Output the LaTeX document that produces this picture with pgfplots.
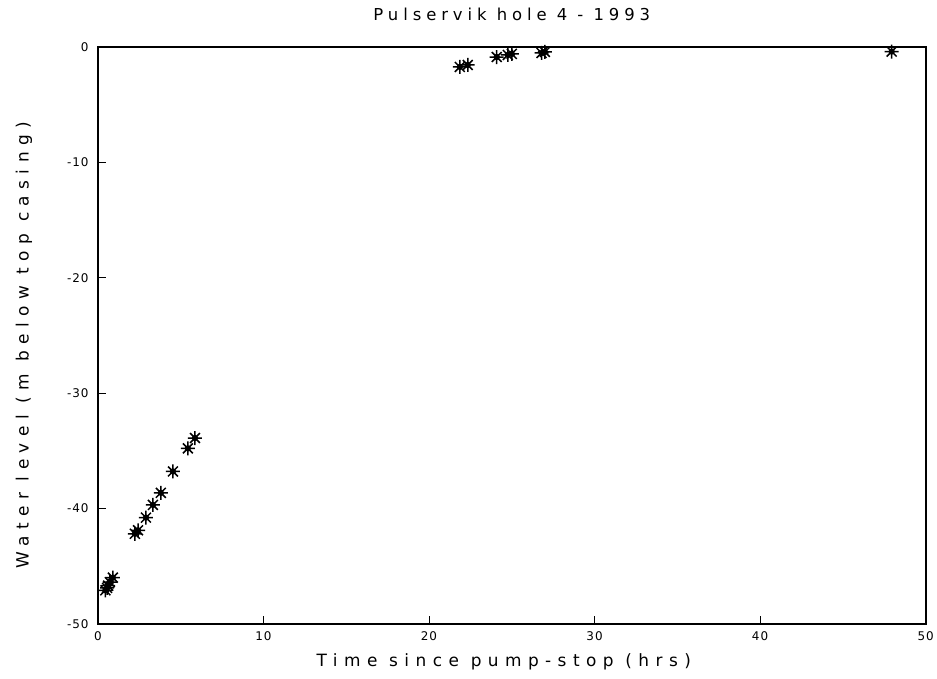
\documentclass[border=0pt]{standalone}
\usepackage{fontspec}
\setmainfont{DejaVu Sans}[LetterSpace=30]
\newfontfamily\labelfont{DejaVu Sans}[LetterSpace=38]
\newfontfamily\tickfont{DejaVu Sans}[LetterSpace=8]
\usepackage{pgfplots}
\pgfplotsset{compat=1.18}

% 8-ray asterisk like the old plotter mark
\pgfdeclareplotmark{star8}{%
  \pgfpathmoveto{\pgfqpoint{-\pgfplotmarksize}{0pt}}%
  \pgfpathlineto{\pgfqpoint{\pgfplotmarksize}{0pt}}%
  \pgfpathmoveto{\pgfqpoint{0pt}{-\pgfplotmarksize}}%
  \pgfpathlineto{\pgfqpoint{0pt}{\pgfplotmarksize}}%
  \pgfpathmoveto{\pgfqpoint{-0.707\pgfplotmarksize}{-0.707\pgfplotmarksize}}%
  \pgfpathlineto{\pgfqpoint{0.707\pgfplotmarksize}{0.707\pgfplotmarksize}}%
  \pgfpathmoveto{\pgfqpoint{-0.707\pgfplotmarksize}{0.707\pgfplotmarksize}}%
  \pgfpathlineto{\pgfqpoint{0.707\pgfplotmarksize}{-0.707\pgfplotmarksize}}%
  \pgfusepathqstroke
  \pgfpathcircle{\pgfpointorigin}{0.45\pgfplotmarksize}%
  \pgfusepathqfill}

\begin{document}
\begin{tikzpicture}
\begin{axis}[
  scale only axis, width=828bp, height=577bp,
  xmin=0, xmax=50, ymin=-50, ymax=0,
  xtick={0,10,...,50}, ytick={-50,-40,...,0},
  tick align=inside, major tick length=8bp,
  xtick pos=bottom, ytick pos=left,
  axis line style={line width=1.8bp},
  tick style={line width=0.8bp, black},
  /pgf/number format/assume math mode=true,
  ticklabel style={font=\tickfont\fontsize{12}{14}\selectfont},
  yticklabel style={xshift=-6bp},
  xticklabel style={yshift=-4bp},
  title={Pulservik hole 4 - 1993},
  title style={font=\fontsize{16.5}{19}\selectfont, at={(0.5,1)}, anchor=center, yshift=27bp},
  xlabel={Time since pump-stop (hrs)},
  ylabel={Water level (m below top casing)},
  label style={font=\labelfont\fontsize{17}{19}\selectfont},
  xlabel style={at={(0.5,0)}, anchor=center, yshift=-38bp, xshift=-8bp},
  ylabel style={at={(0,0.5)}, anchor=center, yshift=74bp, xshift=-10bp},
]
\addplot[only marks, mark=star8, mark size=7bp, mark options={line width=1.5bp, black}] coordinates {
  (0.45,-47.1) (0.55,-46.9) (0.62,-46.7) (0.72,-46.4) (0.90,-46.0)
  (2.23,-42.2) (2.42,-41.9) (2.90,-40.8) (3.32,-39.7) (3.80,-38.65)
  (4.53,-36.8) (5.43,-34.8) (5.86,-33.9)
  (21.86,-1.73) (22.34,-1.56) (24.09,-0.87) (24.76,-0.69) (25.0,-0.6)
  (26.8,-0.52) (27.0,-0.43) (47.95,-0.4)
};
\end{axis}
\path (current axis.south west) ++(-98bp,-55bp);
\path (current axis.north east) ++(11bp,47bp);
\end{tikzpicture}
\end{document}
